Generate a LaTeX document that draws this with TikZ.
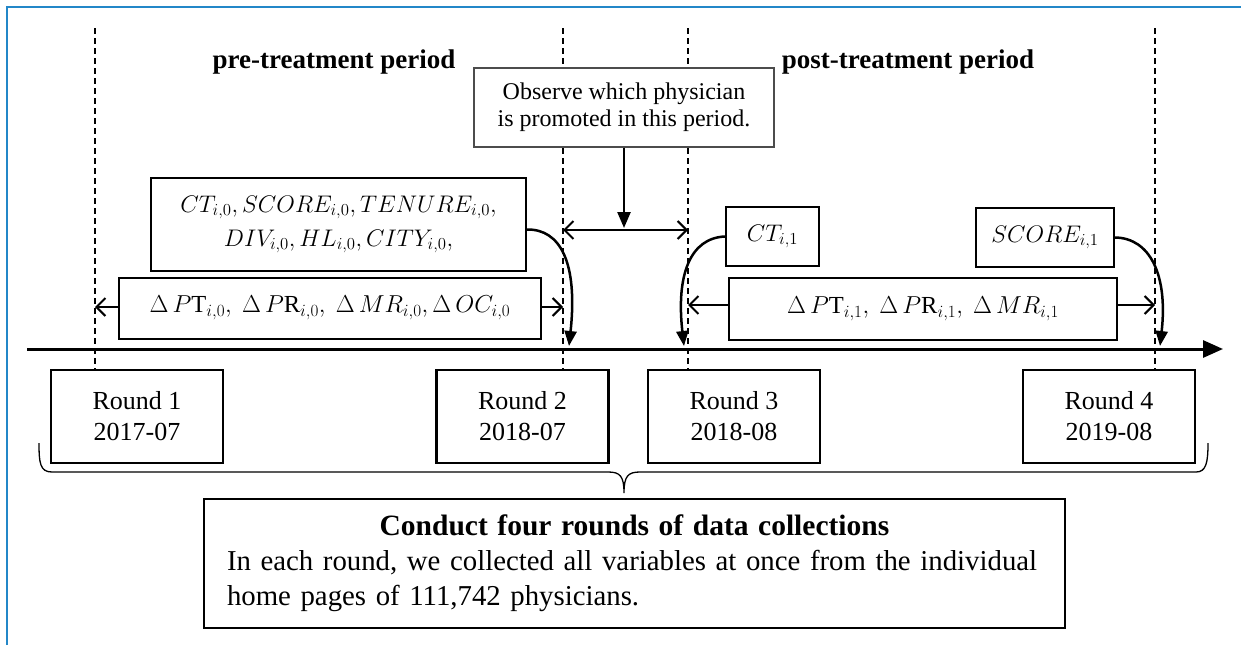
\RequirePackage{fix-cm}
\documentclass[tikz,border=0pt]{standalone}
\usepackage{fontspec}
\setmainfont{Liberation Serif}
\usetikzlibrary{arrows.meta}
\definecolor{frameblue}{RGB}{35,135,200}
\begin{document}
\begin{tikzpicture}[x=1pt,y=-1pt,
  dline/.style={dash pattern=on 6pt off 4pt, line width=1.3pt},
  box/.style={draw, line width=2pt, fill=white, inner sep=0pt, align=center},
  rbox/.style={box, line width=2.4pt, minimum width=172pt, minimum height=93pt, font=\fontsize{26}{31}\selectfont},
  mbox/.style={box, font=\fontsize{24}{34}\selectfont},
  dbl/.style={line width=2pt, -{Straight Barb[length=9pt,width=18pt,line width=2pt]}},
  curv/.style={line width=2.5pt, -{Triangle[length=15pt,width=12pt]}},
  lbl/.style={font=\fontsize{27}{30}\selectfont\bfseries}]
\useasboundingbox (0,0) rectangle (1241,645);
% frame
\draw[frameblue, line width=2.5pt] (7,645) -- (7,7) -- (1241,7);
% dashed guides
\foreach \n/\x in {1/95, 2/563, 3/688, 4/1155}{
  \coordinate (d\n top) at (\x,28);
  \coordinate (d\n bot) at (\x,370);
  \draw[dline] (d\n top) -- (d\n bot);
}
% period labels
\node[lbl] (pre) at (334,62) {pre-treatment period};
\node[lbl] (post) at (908,62) {post-treatment period};
% observe box
\node[box, draw=black!70, line width=1.3pt, minimum width=300pt, minimum height=79pt, font=\fontsize{24}{27}\selectfont] (obs) at (624,107.5) {Observe which physician\\is promoted in this period.};
% variable boxes
\node[mbox, minimum width=375pt, minimum height=93pt] (ct0) at (338.5,224.5)
  {$CT_{i,0}, SCORE_{i,0}, TENURE_{i,0},$\\$DIV_{i,0}, HL_{i,0}, CITY_{i,0},$};
\node[mbox, minimum width=422pt, minimum height=61pt, font=\fontsize{24.5}{34}\selectfont] (dp0) at (330,308)
  {$\Delta\,P\mathrm{T}_{i,0},\ \Delta\,P\mathrm{R}_{i,0},\ \Delta\,MR_{i,0},\Delta\,OC_{i,0}$};
\node[mbox, minimum width=93pt, minimum height=59pt] (ct1) at (772.5,236.5) {$CT_{i,1}$};
\node[mbox, minimum width=138pt, minimum height=59pt] (sc1) at (1045,237.5) {$SCORE_{i,1}$};
\node[mbox, minimum width=388pt, minimum height=62pt, font=\fontsize{24.5}{34}\selectfont] (dp1) at (923,309)
  {$\Delta\,P\mathrm{T}_{i,1},\ \Delta\,P\mathrm{R}_{i,1},\ \Delta\,MR_{i,1}$};
% timeline
\coordinate (tl0) at (27,349);
\coordinate (tl1) at (1223,349);
\draw[line width=3pt, -{Triangle[length=20pt,width=17pt]}] (tl0) -- (tl1);
% round boxes
\node[rbox] (r1) at (137,416.5) {Round 1\\2017-07};
\node[rbox] (r2) at (522.5,416.5) {Round 2\\2018-07};
\node[rbox] (r3) at (734,416.5) {Round 3\\2018-08};
\node[rbox] (r4) at (1109,416.5) {Round 4\\2019-08};
% arrows
\coordinate (m0) at (563,230);
\coordinate (m1) at (688,230);
\coordinate (mc) at (624,230);
\coordinate (mt) at (624,228);
\draw[dbl] (mc) -- (m0);
\draw[dbl] (mc) -- (m1);
\draw[line width=2.5pt, -{Triangle[length=16pt,width=13pt]}] (obs.south) -- (mt);
\coordinate (a0) at (95,307);
\coordinate (a1) at (563,307);
\draw[dbl] (dp0.west |- a0) -- (a0);
\draw[dbl] (dp0.east |- a1) -- (a1);
\coordinate (b0) at (688,305);
\coordinate (b1) at (1155,305);
\draw[dbl] (dp1.west |- b0) -- (b0);
\draw[dbl] (dp1.east |- b1) -- (b1);
% curved arrows
\coordinate (t0) at (569,346);
\coordinate (t1) at (684,346);
\coordinate (t2) at (1160,346);
\draw[curv] ([yshift=-5pt]ct0.east) .. controls (560,229) and (578,262) .. (t0);
\draw[curv] (ct1.west) .. controls (690,238) and (676,275) .. (t1);
\draw[curv] (sc1.east) .. controls (1150,238) and (1168,275) .. (t2);
% brace
\draw[line width=1.3pt] (39,443) .. controls (39,463) and (40,472) .. (52,472) -- (608,472)
  .. controls (620,472) and (624,476) .. (624,493)
  .. controls (624,476) and (628,472) .. (640,472) -- (1196,472)
  .. controls (1206,472) and (1208,463) .. (1208,443);
% conduct box
\node[box, line width=1.5pt, minimum width=861pt, minimum height=129pt, text width=815pt, align=left, font=\fontsize{28.8}{35}\selectfont] (conduct) at (634.5,563.5)
  {\makebox[815pt][c]{\fontsize{29.5}{35}\selectfont\bfseries Conduct four rounds of data collections}\\
   \mbox{In each round, we collected all variables at once from the individual}\\
   \mbox{home pages of 111,742 physicians.}};
\end{tikzpicture}
\end{document}
